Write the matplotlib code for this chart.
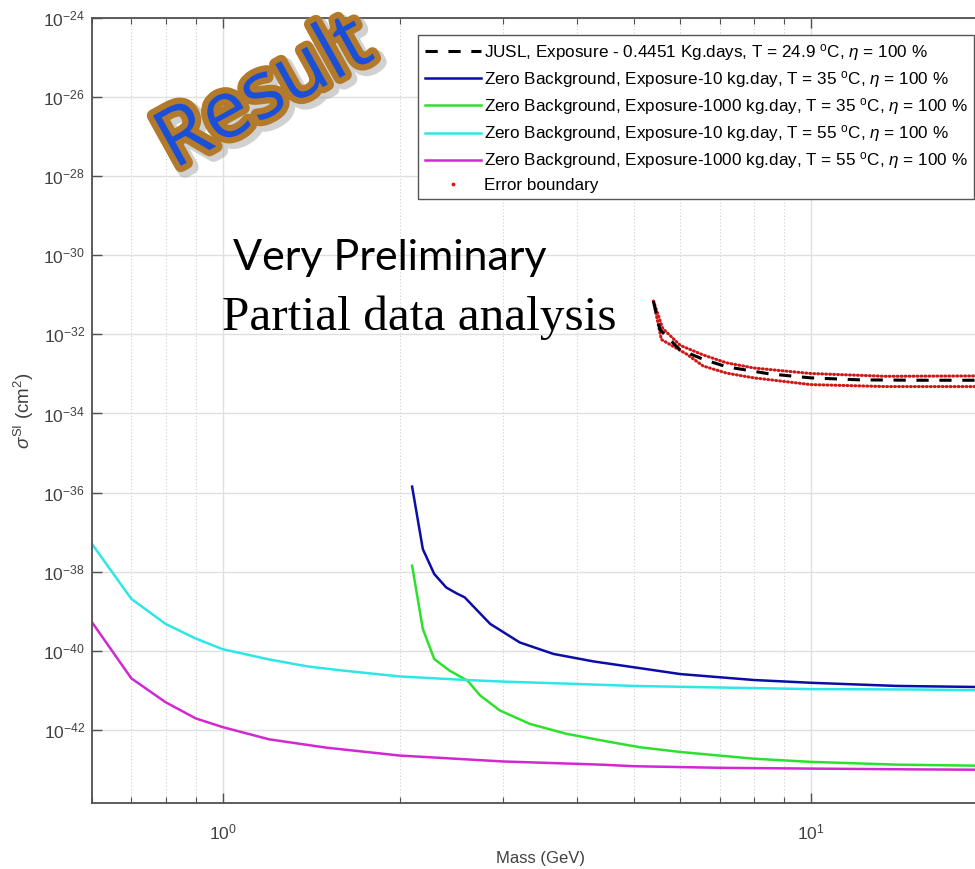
import numpy as np
import matplotlib
matplotlib.use('Agg')
import matplotlib.pyplot as plt
import matplotlib.patheffects as pe
from matplotlib.ticker import FixedLocator, FuncFormatter, LogLocator, NullLocator
from matplotlib.lines import Line2D

plt.rcParams['font.family'] = ['Liberation Sans', 'DejaVu Sans']
plt.rcParams['mathtext.fontset'] = 'custom'
plt.rcParams['mathtext.rm'] = 'Liberation Sans'
plt.rcParams['mathtext.it'] = 'Liberation Sans:italic'
plt.rcParams['mathtext.sf'] = 'Liberation Sans'
plt.rcParams['axes.unicode_minus'] = False

# --- data (mass in GeV, log10 of cross section in cm^2) ---
jusl_m = [5.40, 5.54, 5.98, 6.56, 7.19, 8.51, 10.0, 12.1, 15.3, 20.0]
jusl_s = [-31.16, -31.88, -32.38, -32.63, -32.82, -33.00, -33.10, -33.15, -33.16, -33.16]

err_up_m = [5.40, 5.60, 6.0, 6.56, 7.19, 8.0, 10.0, 13.4, 20.0]
err_up_s = [-31.16, -31.85, -32.28, -32.52, -32.72, -32.85, -32.99, -33.06, -33.05]
err_lo_m = [5.40, 5.57, 6.15, 6.56, 7.19, 8.0, 10.0, 13.4, 20.0]
err_lo_s = [-31.16, -32.13, -32.50, -32.80, -32.98, -33.10, -33.27, -33.32, -33.32]

zb10_35_m = [2.10, 2.19, 2.29, 2.40, 2.50, 2.58, 2.85, 3.2, 3.65, 4.27, 5.12, 6.0, 8.0, 10.0, 14.0, 20.0]
zb10_35_s = [-35.85, -37.43, -38.06, -38.40, -38.55, -38.65, -39.32, -39.79, -40.08, -40.27, -40.44,
             -40.59, -40.74, -40.81, -40.89, -40.92]

zb1000_35_m = [2.10, 2.19, 2.29, 2.43, 2.61, 2.74, 2.96, 3.33, 3.84, 4.49, 5.12, 6.0, 8.0, 10.0, 14.0, 20.0]
zb1000_35_s = [-37.85, -39.45, -40.21, -40.50, -40.76, -41.13, -41.51, -41.85, -42.10, -42.29, -42.44,
               -42.56, -42.73, -42.81, -42.88, -42.91]

zb10_55_m = [0.6, 0.7, 0.8, 0.9, 1.0, 1.2, 1.4, 1.6, 2.0, 2.6, 3.0, 4.0, 5.0, 7.0, 10.0, 15.0, 20.0]
zb10_55_s = [-37.30, -38.69, -39.32, -39.69, -39.96, -40.22, -40.40, -40.50, -40.65, -40.74, -40.78,
             -40.84, -40.89, -40.93, -40.97, -40.98, -41.00]

zb1000_55_m = [0.6, 0.7, 0.8, 0.9, 1.0, 1.2, 1.5, 2.0, 3.0, 4.4, 5.0, 7.0, 10.0, 15.0, 20.0]
zb1000_55_s = [-39.28, -40.70, -41.30, -41.71, -41.93, -42.24, -42.45, -42.65, -42.80, -42.88, -42.92,
               -42.96, -42.98, -43.00, -43.01]

labels = [
    r'JUSL, Exposure - 0.4451 Kg.days, T = 24.9 $^{\mathrm{o}}$C, $\it{\eta}$ = 100 %',
    r'Zero Background, Exposure-10 kg.day, T = 35 $^{\mathrm{o}}$C, $\it{\eta}$ = 100 %',
    r'Zero Background, Exposure-1000 kg.day, T = 35 $^{\mathrm{o}}$C, $\it{\eta}$ = 100 %',
    r'Zero Background, Exposure-10 kg.day, T = 55 $^{\mathrm{o}}$C, $\it{\eta}$ = 100 %',
    r'Zero Background, Exposure-1000 kg.day, T = 55 $^{\mathrm{o}}$C, $\it{\eta}$ = 100 %',
    'Error boundary',
]

W, H = 975, 869
fig = plt.figure(figsize=(W / 100, H / 100), dpi=100)
ax = fig.add_axes([92 / W, 66 / H, 896 / W, 785 / H])

def p(v):
    return 10.0 ** np.array(v)

red = '#d01818'
dots = (0, (0.3, 1.0))
ax.plot(err_up_m, p(err_up_s), color=red, lw=2.2, linestyle=dots, dash_capstyle='round')
ax.plot(err_lo_m, p(err_lo_s), color=red, lw=2.2, linestyle=dots, dash_capstyle='round')
h0, = ax.plot(jusl_m, p(jusl_s), color='black', lw=2.2, linestyle=(0, (4, 3.5)))
h1, = ax.plot(zb10_35_m, p(zb10_35_s), color='#0c0ca8', lw=1.8)
h2, = ax.plot(zb1000_35_m, p(zb1000_35_s), color='#2ee02e', lw=1.8)
h3, = ax.plot(zb10_55_m, p(zb10_55_s), color='#2ee6e6', lw=1.8)
h4, = ax.plot(zb1000_55_m, p(zb1000_55_s), color='#d228d2', lw=1.8)
h5 = Line2D([], [], color=red, marker='.', markersize=3.5, linestyle='none')

ax.set_xscale('log')
ax.set_yscale('log')
ax.set_xlim(0.6, 20)
ax.set_ylim(10 ** -43.85, 1e-24)

ax.yaxis.set_major_locator(FixedLocator([10.0 ** e for e in range(-42, -23, 2)]))
ax.yaxis.set_minor_locator(NullLocator())
ax.xaxis.set_major_locator(FixedLocator([1.0, 10.0]))
ax.xaxis.set_minor_locator(LogLocator(base=10, subs=np.arange(2, 10), numticks=20))
fmt = FuncFormatter(lambda v, pos: r'$10^{%d}$' % int(round(np.log10(v))))
ax.yaxis.set_major_formatter(fmt)
ax.xaxis.set_major_formatter(fmt)
ax.xaxis.set_minor_formatter(FuncFormatter(lambda v, pos: ''))

ax.grid(True, which='major', color='#e0e0e0', lw=1.0, linestyle='-')
ax.grid(True, which='minor', axis='x', color='#cfcfcf', lw=0.8, linestyle=(0, (1, 2)))
ax.set_axisbelow(True)

for s in ax.spines.values():
    s.set_color('#505050')
    s.set_linewidth(1.3)
ax.tick_params(which='both', direction='in', top=True, right=True, colors='#505050',
               labelcolor='#404040', labelsize=12.5)
ax.tick_params(which='major', length=7, width=1.0)
ax.tick_params(which='minor', length=4, width=0.8)
ax.tick_params(axis='x', pad=14)
ax.tick_params(axis='y', pad=5)

ax.set_xlabel('Mass (GeV)', fontsize=12, color='#404040', labelpad=6)
ax.set_ylabel(r'$\it{\sigma}^{\mathrm{SI}}$ (cm$^2$)', fontsize=13.5, color='#404040', labelpad=5)

leg = ax.legend([h0, h1, h2, h3, h4, h5], labels, loc='upper left',
                bbox_to_anchor=(418 / W, 1 - 35 / H), bbox_transform=fig.transFigure,
                borderaxespad=0, fancybox=False, framealpha=1, edgecolor='#555555',
                fontsize=12.3, handlelength=3.3, handletextpad=0.15, labelspacing=0.36,
                borderpad=0.4)
leg.get_frame().set_linewidth(1.0)

fig.text(233 / W, 1 - 270 / H, 'Very Preliminary', fontsize=31, family='Lato',
         va='baseline', ha='left', color='black')
fig.text(222 / W, 1 - 330 / H, 'Partial data analysis', fontsize=35.5, family='Liberation Serif',
         va='baseline', ha='left', color='black')

fig.text(265 / W, 1 - 95 / H, 'Result', fontsize=58, family='Open Sans', rotation=29,
         ha='center', va='center', color='#1a50d8',
         path_effects=[pe.Stroke(linewidth=11, foreground='#999999', alpha=0.45, offset=(3, -3)),
                       pe.Stroke(linewidth=9, foreground='#b27a2a'), pe.Normal()])

fig.savefig('out.png', dpi=100)
